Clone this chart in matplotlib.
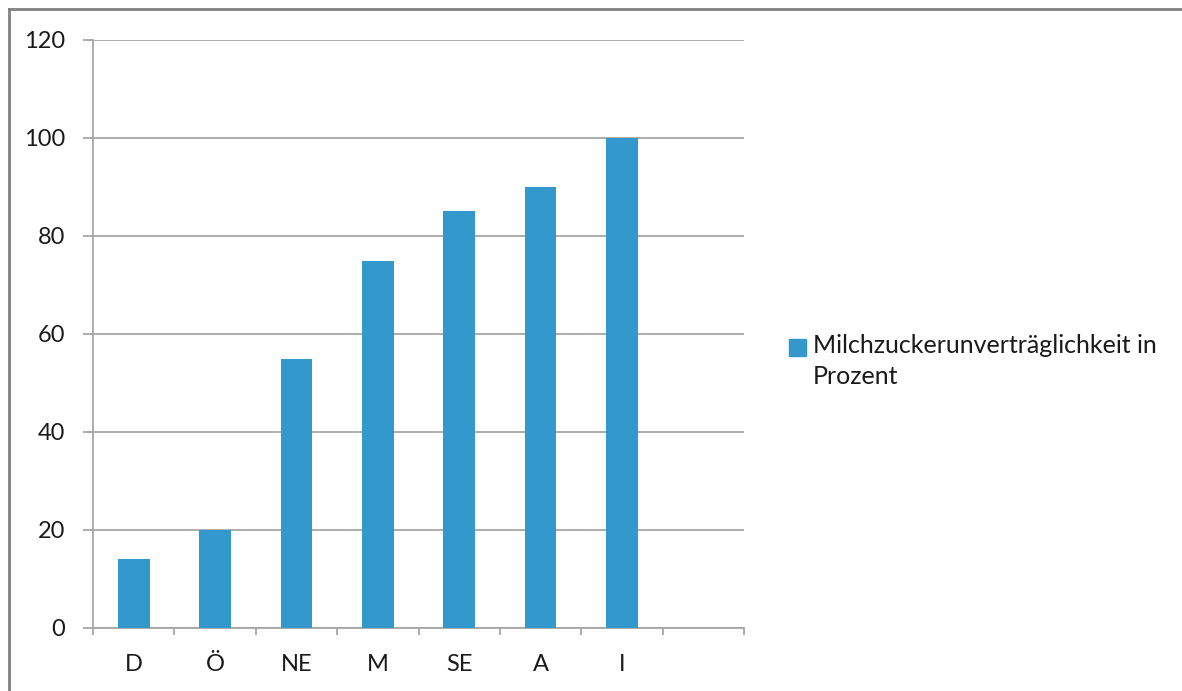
import matplotlib.pyplot as plt
from matplotlib.lines import Line2D
from matplotlib.patches import Rectangle
import numpy as np

categories = ["D", "Ö", "NE", "M", "SE", "A", "I"]
values = [14, 20, 55, 75, 85, 90, 100]
series_label = ["Milchzuckerunverträglichkeit in", "Prozent"]

plt.rcParams['font.family'] = ['Lato', 'DejaVu Sans']

W, H = 1182, 691
fig = plt.figure(figsize=(W / 100, H / 100), dpi=100)
ax = fig.add_axes([93 / W, 1 - 628 / H, (744 - 93) / W, (628 - 40) / H])

bar_color = "#3399CC"
x = np.arange(len(categories))
ax.bar(x, values, width=0.39, color=bar_color, zorder=3)

ax.set_xlim(-0.5, 7.5)
ax.set_ylim(0, 120)
ax.set_yticks(range(0, 121, 20))
ax.yaxis.grid(True, color="#A6A6A6", linewidth=1.3, zorder=0)

ax.set_xticks(x)
ax.set_xticklabels(categories)
ax.set_xticks(np.arange(-0.5, 8.0, 1.0), minor=True)
ax.tick_params(axis="x", which="major", length=0, pad=19, labelsize=17, colors="#1a1a1a")
ax.tick_params(axis="x", which="minor", length=5, width=1.3, color="#A6A6A6", direction="out")
ax.tick_params(axis="y", length=7, width=1.3, color="#A6A6A6", pad=13, labelsize=17, labelcolor="#1a1a1a")

for s in ["top", "right"]:
    ax.spines[s].set_visible(False)
for s in ["left", "bottom"]:
    ax.spines[s].set_color("#A6A6A6")
    ax.spines[s].set_linewidth(1.3)

# legend, drawn by hand so the square sits on the first line like Excel does
fig.add_artist(Rectangle((789 / W, 1 - 356 / H), 17 / W, 17 / H,
                         transform=fig.transFigure, color=bar_color))
fig.text(813 / W, 1 - 353 / H, series_label[0], fontsize=18, color="#1a1a1a", va="baseline")
fig.text(813 / W, 1 - 384 / H, series_label[1], fontsize=18, color="#1a1a1a", va="baseline")

# outer chart border (only top and left visible in the crop)
fig.add_artist(Line2D([8.5 / W, 8.5 / W], [0, 1 - 9 / H], color="#808080", linewidth=2))
fig.add_artist(Line2D([8.5 / W, 1], [1 - 9 / H, 1 - 9 / H], color="#808080", linewidth=2))

fig.savefig("out.png", dpi=100)
